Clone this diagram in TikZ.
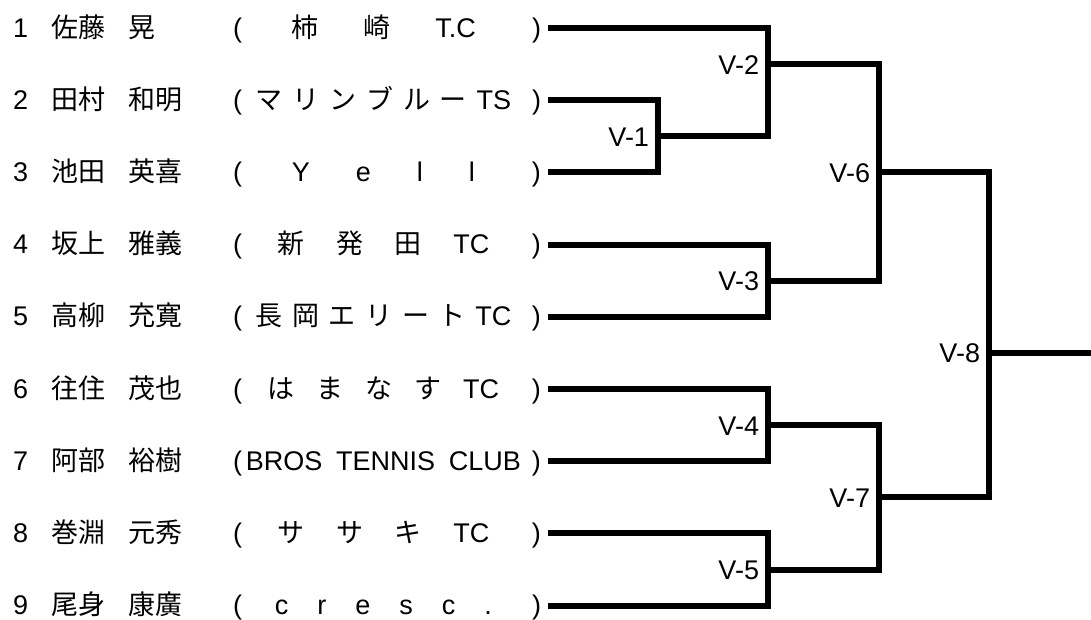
\documentclass[tikz,border=0pt]{standalone}
\usepackage{fontspec}
\setmainfont{Liberation Sans}
\newfontfamily\jp{Noto Sans CJK JP}

\begin{document}
\begin{tikzpicture}[x=1pt, y=-1pt,
                    line width=6pt,
                    every node/.style={inner sep=0pt, font=\fontsize{27}{30}\selectfont},
                    entry/.style={anchor=base west},
                    match/.style={anchor=base east}]
  \useasboundingbox (0,0) rectangle (1091,619);

  % players
  \foreach \i/\fam/\giv/\team in {
      1/佐藤/晃/{\jp\hfill 柿\hfill 崎\hfill\rmfamily T.C\hfill},
      2/田村/和明/{\jp\hfill マ\hfill リ\hfill ン\hfill ブ\hfill ル\hfill ー\hfill\rmfamily TS\hfill},
      3/池田/英喜/{\hfill Y\hfill e\hfill l\hfill l\hfill},
      4/坂上/雅義/{\jp\hfill 新\hfill 発\hfill 田\hfill\rmfamily TC\hfill},
      5/高柳/充寛/{\jp\hfill 長\hfill 岡\hfill エ\hfill リ\hfill ー\hfill ト\hfill\rmfamily TC\hfill},
      6/往住/茂也/{\jp\hfill は\hfill ま\hfill な\hfill す\hfill\rmfamily TC\hfill},
      7/阿部/裕樹/{BROS TENNIS CLUB},
      8/巻淵/元秀/{\jp\hfill サ\hfill サ\hfill キ\hfill\rmfamily TC\hfill},
      9/尾身/康廣/{\hfill c\hfill r\hfill e\hfill s\hfill c\hfill .\hfill}}{
    \pgfmathsetmacro\yy{28+72.2*(\i-1)}
    \node[entry] (n\i) at (10,\yy+9) {\i};
    \node[entry] (f\i) at (48,\yy+9) {\jp\fam};
    \node[entry] (g\i) at (125,\yy+9) {\jp\giv};
    \node[entry] (t\i) at (230,\yy+9)
      {\makebox[308pt][s]{(\hspace{4pt}\makebox[275pt][s]{\team}\hfill)}};
    \coordinate (s\i) at (548,\yy);
  }

  % matches
  \coordinate (m1) at (658,136.3);
  \coordinate (m2) at (768,64.1);
  \coordinate (m3) at (768,280.7);
  \coordinate (m4) at (768,425.1);
  \coordinate (m5) at (768,569.5);
  \coordinate (m6) at (879,172.4);
  \coordinate (m7) at (879,497.3);
  \coordinate (m8) at (989,352.9);
  \coordinate (fin) at (1091,352.9);

  \foreach \k in {1,...,8}
    \node[match] (v\k) at ([xshift=-6pt, yshift=-10pt]m\k) {V-\k};

  \draw (s2) -| (m1) |- (s3);
  \draw (s1) -| (m2) |- (m1);
  \draw (s4) -| (m3) |- (s5);
  \draw (s6) -| (m4) |- (s7);
  \draw (s8) -| (m5) |- (s9);
  \draw (m2) -| (m6) |- (m3);
  \draw (m4) -| (m7) |- (m5);
  \draw (m6) -| (m8) |- (m7);
  \draw (m8) -- (fin);

\end{tikzpicture}
\end{document}
